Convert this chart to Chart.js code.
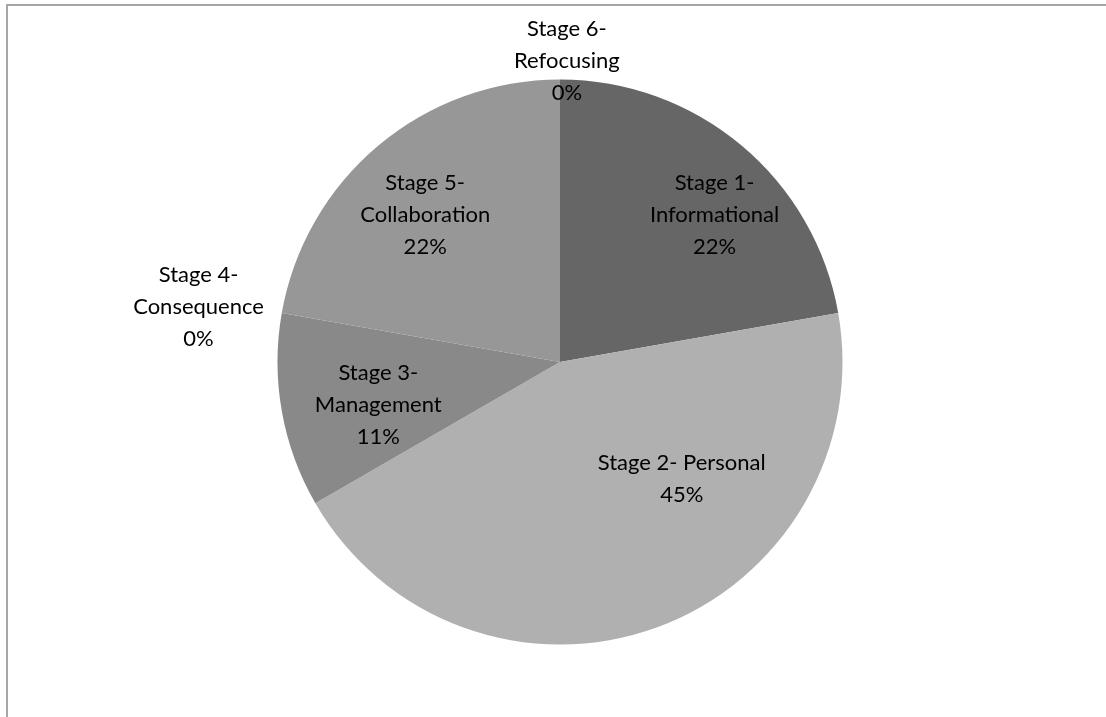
<!DOCTYPE html>
<html>
<head>
<meta charset="utf-8">
<script src="https://cdn.jsdelivr.net/npm/chart.js@4/dist/chart.umd.min.js"></script>
<style>
  html, body { margin: 0; padding: 0; background: #fff; overflow: hidden; }
  #wrap { position: relative; width: 1106px; height: 717px; }
  #frame { position: absolute; left: 6px; top: 4px; width: 1200px; height: 800px; border: 2px solid #a6a6a6; box-sizing: border-box; }
  canvas { position: absolute; left: 0; top: 0; }
</style>
</head>
<body>
<div id="wrap">
  <div id="frame"></div>
  <canvas id="c" width="1106" height="717"></canvas>
</div>
<script>
// ---- data ----
const categories = [
  ["Stage 1-", "Informational"],
  ["Stage 2- Personal"],
  ["Stage 3-", "Management"],
  ["Stage 4-", "Consequence"],
  ["Stage 5-", "Collaboration"],
  ["Stage 6-", "Refocusing"]
];
const counts = [2, 4, 1, 0, 2, 0];
const percentLabels = ["22%", "45%", "11%", "0%", "22%", "0%"];

// ---- styles ----
const sliceColors = ["#666666", "#b0b0b0", "#898989", "#a0a0a0", "#979797", "#a0a0a0"];
const sliceBorders = [0, 0, 0, 1, 0, 1];
// label placement: [angle clockwise from top (deg), distance as fraction of radius]
const labelPlacement = [[46.5, 0.754], [133.8, 0.597], [256.7, 0.661], [278.6, 1.294], [317.4, 0.705], [1.3, 1.067]];

const labelPlugin = {
  id: 'pieLabels',
  afterDatasetsDraw(chart) {
    const ctx = chart.ctx;
    const meta = chart.getDatasetMeta(0);
    ctx.save();
    ctx.font = '22px Lato, "Open Sans", sans-serif';
    ctx.fillStyle = '#000';
    ctx.textAlign = 'center';
    ctx.textBaseline = 'middle';
    const lineH = 32;
    meta.data.forEach((arc, i) => {
      const p = labelPlacement[i];
      const a = p[0] * Math.PI / 180;
      const r = arc.outerRadius * p[1];
      const cx = arc.x + r * Math.sin(a);
      const cy = arc.y - r * Math.cos(a);
      const lines = categories[i].concat([percentLabels[i]]);
      const y0 = cy - (lines.length - 1) * lineH / 2;
      lines.forEach((t, k) => ctx.fillText(t, cx, y0 + k * lineH));
    });
    ctx.restore();
  }
};

new Chart(document.getElementById('c'), {
  type: 'pie',
  data: {
    labels: categories.map(c => c.join(' ')),
    datasets: [{
      data: counts,
      backgroundColor: sliceColors,
      borderColor: '#c8c8c8',
      borderWidth: sliceBorders,
      hoverOffset: 0,
      offset: 0
    }]
  },
  options: {
    responsive: false,
    animation: false,
    events: [],
    layout: { padding: { top: 79, bottom: 72, left: 20, right: 6 } },
    plugins: { legend: { display: false }, tooltip: { enabled: false } }
  },
  plugins: [labelPlugin]
});
</script>
</body>
</html>
